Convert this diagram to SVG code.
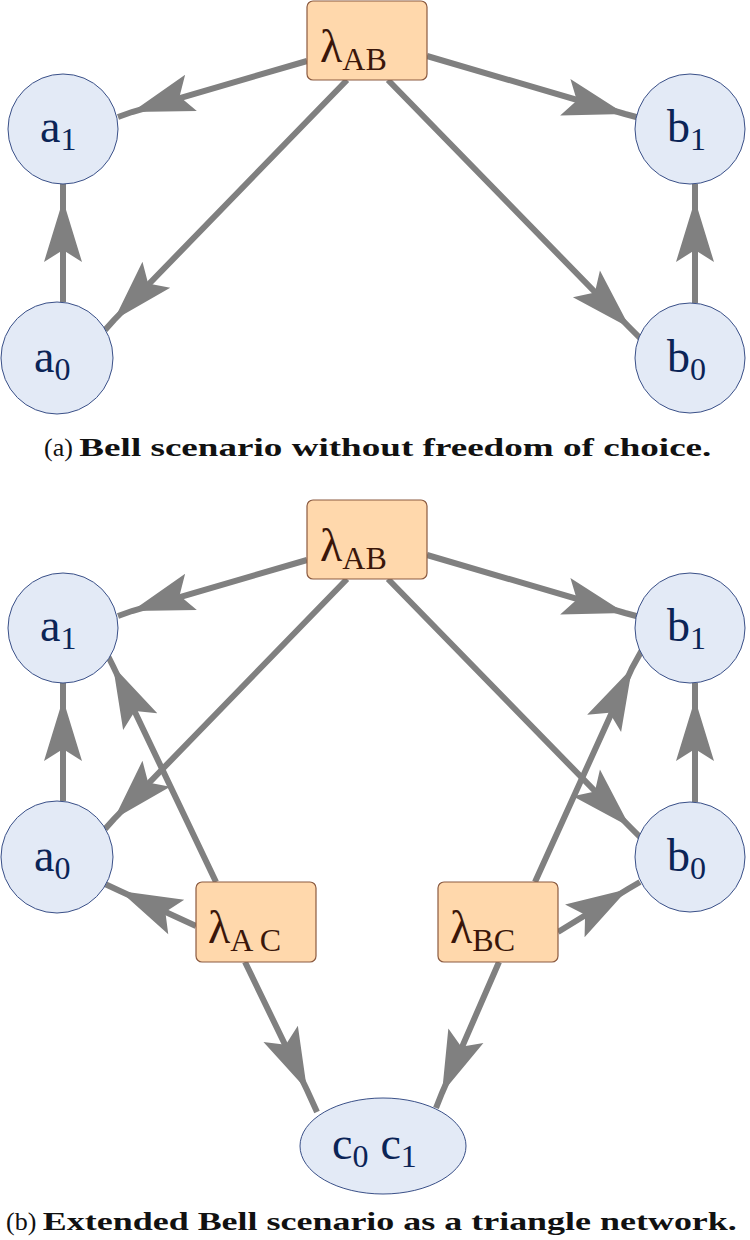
<svg xmlns="http://www.w3.org/2000/svg" width="750" height="1240" viewBox="0 0 750 1240">
<style>
.n{fill:#e3eaf6;stroke:#3a5088;stroke-width:1}
.s{fill:#ffd8ac;stroke:#8b5a40;stroke-width:1.2}
.e{fill:none;stroke:#808080;stroke-width:6;marker-mid:url(#ah)}
.t{font-family:"Liberation Serif",serif;font-size:46px;fill:#0b2456}
.l{font-family:"Liberation Serif",serif;font-size:46px;fill:#3a160a}
.sub{font-size:32px}
.c{font-family:"Liberation Serif",serif;font-size:26px;fill:#111}
</style>
<defs>
<marker id="ah" markerUnits="userSpaceOnUse" orient="auto" markerWidth="80" markerHeight="60" refX="62" refY="20" viewBox="0 0 80 40" overflow="visible">
<path d="M62,20 L0,1 L12,20 L0,39 Z" fill="#808080"/>
</marker>
</defs>
<g id="connectors">
<path class="e" d="M307,61 L132,112 L118,117"/>
<path class="e" d="M347,80 L114,320 L105,330"/>
<path class="e" d="M63,302 L63,200 L63,184"/>
<path class="e" d="M427,56 L625,114 L640,118"/>
<path class="e" d="M388,80 L630,328 L640,338"/>
<path class="e" d="M695,303 L695,200 L695,184"/>
<path class="e" d="M307,560 L132,611 L118,616"/>
<path class="e" d="M347,579 L114,819 L105,829"/>
<path class="e" d="M63,801 L63,699 L63,683"/>
<path class="e" d="M427,555 L625,613 L640,617"/>
<path class="e" d="M388,579 L630,827 L640,837"/>
<path class="e" d="M695,802 L695,699 L695,683"/>
<path class="e" d="M216,882 L113,666 L105,650"/>
<path class="e" d="M196,926 L120,891 L105,884"/>
<path class="e" d="M245,962 L307,1090 L317,1112"/>
<path class="e" d="M499,962 L442,1093 L436,1108"/>
<path class="e" d="M535,882 L632,668 L642,650"/>
<path class="e" d="M558,932 L628,889 L640,882"/>
</g>
<g id="lAB1"><rect class="s" x="307" y="1" width="120" height="79" rx="6"/><text class="l" x="320" y="62">λ<tspan class="sub" dy="8">AB</tspan></text></g>
<g id="a1"><circle class="n" cx="63" cy="129" r="55"/><text class="t" x="40" y="142">a<tspan class="sub" dy="8">1</tspan></text></g>
<g id="a0"><circle class="n" cx="57" cy="358" r="56"/><text class="t" x="34" y="372">a<tspan class="sub" dy="8">0</tspan></text></g>
<g id="b1"><circle class="n" cx="690" cy="129" r="55"/><text class="t" x="667" y="142">b<tspan class="sub" dy="8">1</tspan></text></g>
<g id="b0"><circle class="n" cx="690" cy="358" r="55"/><text class="t" x="667" y="372">b<tspan class="sub" dy="8">0</tspan></text></g>
<text class="c" x="44" y="456">(a) <tspan font-weight="bold" textLength="632" lengthAdjust="spacingAndGlyphs">Bell scenario without freedom of choice.</tspan></text>
<g id="lAB2"><rect class="s" x="307" y="500" width="120" height="79" rx="6"/><text class="l" x="320" y="561">λ<tspan class="sub" dy="8">AB</tspan></text></g>
<g id="a1b"><circle class="n" cx="63" cy="628" r="55"/><text class="t" x="40" y="641">a<tspan class="sub" dy="8">1</tspan></text></g>
<g id="a0b"><circle class="n" cx="57" cy="857" r="56"/><text class="t" x="34" y="871">a<tspan class="sub" dy="8">0</tspan></text></g>
<g id="b1b"><circle class="n" cx="690" cy="628" r="55"/><text class="t" x="667" y="641">b<tspan class="sub" dy="8">1</tspan></text></g>
<g id="b0b"><circle class="n" cx="690" cy="857" r="55"/><text class="t" x="667" y="871">b<tspan class="sub" dy="8">0</tspan></text></g>
<g id="lAC"><rect class="s" x="196" y="882" width="120" height="80" rx="6"/><text class="l" x="208" y="943">λ<tspan class="sub" dy="8">A C</tspan></text></g>
<g id="lBC"><rect class="s" x="438" y="882" width="120" height="80" rx="6"/><text class="l" x="450" y="943">λ<tspan class="sub" dy="8">BC</tspan></text></g>
<g id="c"><ellipse class="n" cx="383" cy="1146" rx="83" ry="48"/><text class="t" x="332" y="1159">c<tspan class="sub" dy="8">0</tspan><tspan dy="-8" dx="12">c</tspan><tspan class="sub" dy="8">1</tspan></text></g>
<text class="c" x="6" y="1230">(b) <tspan font-weight="bold" textLength="694" lengthAdjust="spacingAndGlyphs">Extended Bell scenario as a triangle network.</tspan></text>
</svg>
